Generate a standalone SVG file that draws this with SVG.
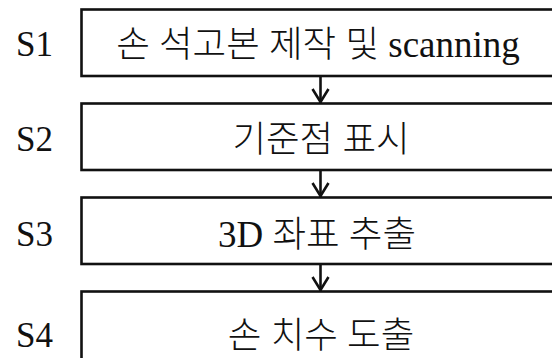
<svg xmlns="http://www.w3.org/2000/svg" width="552" height="358" viewBox="0 0 552 358">
<defs>
<style>
.box{fill:#fff;stroke:#111;stroke-width:2.6}
.lbl{font-family:"Liberation Serif","Noto Sans CJK KR",serif;font-size:35px;fill:#111}
.txt{font-family:"Liberation Serif","Noto Sans CJK KR",serif;font-size:37px;fill:#111;text-anchor:middle}
.ko{font-family:"Noto Sans CJK KR","Liberation Serif",sans-serif;font-size:36.5px;font-weight:300}
.con{fill:none;stroke:#111;stroke-width:2.6}
</style>
</defs>
<rect width="552" height="358" fill="#fff"/>
<g id="connectors">
<path class="con" d="M320.5 76 V103"/>
<path class="con" d="M312.5 89 L320.5 102 L328.5 89"/>
<path class="con" d="M320.5 170 V197"/>
<path class="con" d="M312.5 183 L320.5 196 L328.5 183"/>
<path class="con" d="M320.5 264 V291"/>
<path class="con" d="M312.5 277 L320.5 290 L328.5 277"/>
</g>
<g id="s1">
<rect class="box" x="81.5" y="9.5" width="480" height="66.5"/>
<text class="lbl" x="16" y="56">S1</text>
<text class="txt" x="318" y="57">  <tspan class="ko">손</tspan> <tspan class="ko">석고본</tspan> <tspan class="ko">제작</tspan> <tspan class="ko">및</tspan> scanning</text>
</g>
<g id="s2">
<rect class="box" x="81.5" y="103.5" width="480" height="66.5"/>
<text class="lbl" x="16" y="151">S2</text>
<text class="txt" x="321" y="152"><tspan class="ko">기준점</tspan> <tspan class="ko">표시</tspan></text>
</g>
<g id="s3">
<rect class="box" x="81.5" y="197.5" width="480" height="66.5"/>
<text class="lbl" x="16" y="246">S3</text>
<text class="txt" x="317" y="247">3D <tspan class="ko">좌표</tspan> <tspan class="ko">추출</tspan></text>
</g>
<g id="s4">
<rect class="box" x="81.5" y="291.5" width="480" height="80"/>
<text class="lbl" x="16" y="347">S4</text>
<text class="txt" x="321" y="348"><tspan class="ko">손</tspan> <tspan class="ko">치수</tspan> <tspan class="ko">도출</tspan></text>
</g>
</svg>
